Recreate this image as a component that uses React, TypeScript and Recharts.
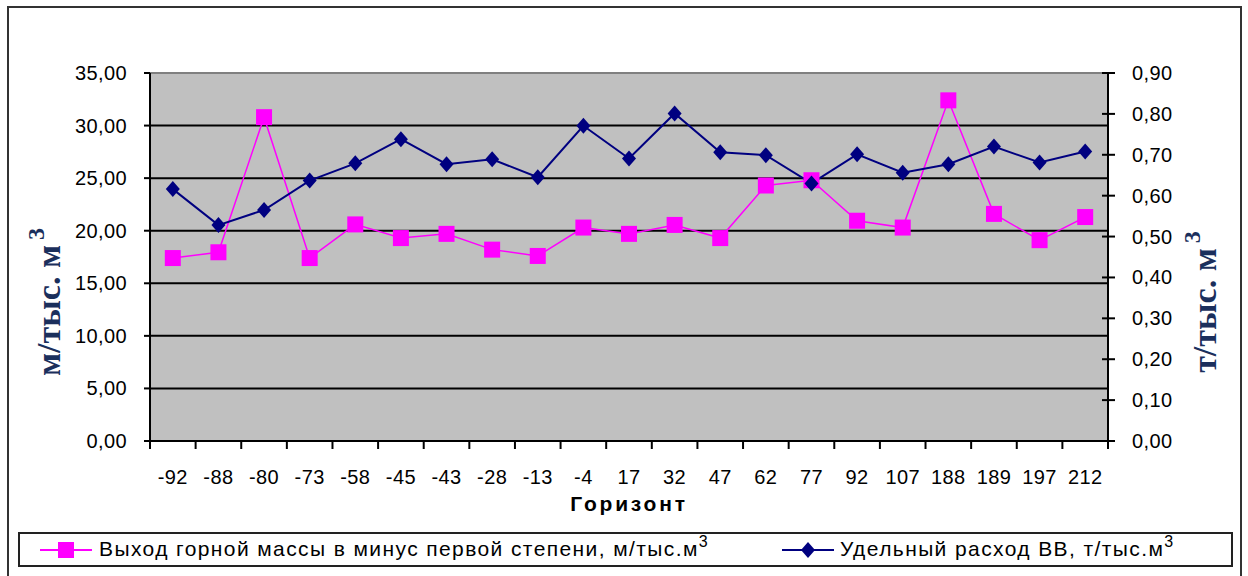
import { LineChart, Line, XAxis, YAxis, CartesianGrid, Legend, ReferenceLine } from "recharts";

// горизонты (категории оси X)
const horizons = ["-92", "-88", "-80", "-73", "-58", "-45", "-43", "-28", "-13", "-4", "17", "32", "47", "62", "77", "92", "107", "188", "189", "197", "212"];

// выход горной массы в минус первой степени, м/тыс.м3 (левая ось)
const rockYield = [17.4, 17.95, 30.8, 17.4, 20.6, 19.3, 19.7, 18.2, 17.6, 20.3, 19.7, 20.55, 19.3, 24.3, 24.8, 20.95, 20.3, 32.4, 21.6, 19.1, 21.3];

// удельный расход ВВ, т/тыс.м3 (правая ось)
const explosiveUse = [0.616, 0.528, 0.565, 0.637, 0.679, 0.738, 0.677, 0.689, 0.645, 0.771, 0.691, 0.801, 0.706, 0.699, 0.63, 0.701, 0.656, 0.677, 0.72, 0.681, 0.708];

const leftTicks = [0, 5, 10, 15, 20, 25, 30, 35];
const rightTicks = [0, 0.1, 0.2, 0.3, 0.4, 0.5, 0.6, 0.7, 0.8, 0.9];

const yieldName = "Выход горной массы в минус первой степени, м/тыс.м";
const explosiveName = "Удельный расход ВВ, т/тыс.м";

const data = horizons.map((h, i) => ({ horizon: h, rock: rockYield[i], bb: explosiveUse[i] }));

const SANS = "'Liberation Sans', Arial, sans-serif";
const SERIF = "'Liberation Serif', 'Times New Roman', serif";
const TITLE_COLOR = "#1b2f5c";
const PINK = "#ff00ff";
const NAVY = "#000080";

const fmt = (v: number) => v.toFixed(2).replace(".", ",");

const HorizonTick = (props: any) => {
  const { x, y, payload, index, width } = props;
  const step = (width || 958) / horizons.length;
  return (
    <g>
      <line x1={x - step / 2} y1={y} x2={x - step / 2} y2={y + 8} stroke="#000" strokeWidth={2} />
      {index === horizons.length - 1 && (
        <line x1={x + step / 2} y1={y} x2={x + step / 2} y2={y + 8} stroke="#000" strokeWidth={2} />
      )}
      <text x={x} y={y + 43} textAnchor="middle" fontFamily={SANS} fontSize={20} letterSpacing={0.4} fill="#000">
        {payload.value}
      </text>
    </g>
  );
};

const LeftTick = (props: any) => {
  const { x, y, payload } = props;
  return (
    <g>
      <line x1={x - 6} y1={y} x2={x} y2={y} stroke="#000" strokeWidth={2} />
      <text x={x - 23} y={y + 7} textAnchor="end" fontFamily={SANS} fontSize={20} letterSpacing={0.4} fill="#000">
        {fmt(payload.value)}
      </text>
    </g>
  );
};

const RightTick = (props: any) => {
  const { x, y, payload } = props;
  return (
    <g>
      <line x1={x - 6} y1={y} x2={x + 7} y2={y} stroke="#000" strokeWidth={2} />
      <text x={x + 24} y={y + 7} textAnchor="start" fontFamily={SANS} fontSize={20} letterSpacing={0.4} fill="#000">
        {fmt(payload.value)}
      </text>
    </g>
  );
};

const AxisTitle = ({ viewBox, text, dx }: any) => {
  const cx = viewBox.x + dx;
  const cy = viewBox.y + viewBox.height / 2 + 45;
  return (
    <text
      x={cx}
      y={cy}
      transform={`rotate(-90, ${cx}, ${cy})`}
      textAnchor="middle"
      fontFamily={SERIF}
      fontWeight="bold"
      fontSize={34}
      fill={TITLE_COLOR}
    >
      {text}
      <tspan dy={-16} dx={5} fontSize={24}>3</tspan>
    </text>
  );
};

const SquareDot = (props: any) => {
  const { cx, cy } = props;
  if (cx == null || cy == null) return null;
  return <rect x={cx - 8} y={cy - 8} width={16} height={16} fill={PINK} />;
};

const DiamondDot = (props: any) => {
  const { cx, cy } = props;
  if (cx == null || cy == null) return null;
  return <polygon points={`${cx},${cy - 8} ${cx + 7},${cy} ${cx},${cy + 8} ${cx - 7},${cy}`} fill={NAVY} />;
};

const LegendBox = () => (
  <div
    style={{
      width: 1215,
      height: 35,
      border: "2px solid #222",
      boxSizing: "border-box",
      position: "relative",
      background: "#fff",
      fontFamily: SANS,
      fontSize: 21,
      letterSpacing: 1.4,
      color: "#000",
    }}
  >
    <svg width={52} height={20} style={{ position: "absolute", left: 20, top: 6 }}>
      <line x1={0} y1={10} x2={52} y2={10} stroke={PINK} strokeWidth={2} />
      <rect x={18} y={2} width={16} height={16} fill={PINK} />
    </svg>
    <span style={{ position: "absolute", left: 79, top: 3, whiteSpace: "nowrap" }}>
      {yieldName}
      <sup style={{ fontSize: 16, verticalAlign: 9, lineHeight: 0 }}>3</sup>
    </span>
    <svg width={52} height={20} style={{ position: "absolute", left: 762, top: 6 }}>
      <line x1={0} y1={10} x2={52} y2={10} stroke={NAVY} strokeWidth={2} />
      <polygon points="26,2 33,10 26,18 19,10" fill={NAVY} />
    </svg>
    <span style={{ position: "absolute", left: 820, top: 3, whiteSpace: "nowrap" }}>
      {explosiveName}
      <sup style={{ fontSize: 16, verticalAlign: 9, lineHeight: 0 }}>3</sup>
    </span>
  </div>
);

export default function App() {
  return (
    <div style={{ position: "absolute", left: 0, top: 0, width: 1248, height: 576, overflow: "hidden", background: "#fff" }}>
      <div
        style={{
          position: "absolute",
          left: 7,
          top: 6,
          width: 1235,
          height: 580,
          border: "2px solid #333",
          borderBottom: "none",
          boxSizing: "border-box",
        }}
      />
      <div style={{ position: "absolute", left: 0, top: 0 }}>
        <LineChart width={1248} height={576} data={data} margin={{ top: 73, right: 0, bottom: 60, left: 0 }}>
          <CartesianGrid
            yAxisId="left"
            vertical={false}
            horizontal
            stroke="#000"
            strokeWidth={2}
            fill="#c0c0c0"
            fillOpacity={1}
          />
          <ReferenceLine yAxisId="left" y={35} stroke="#808080" strokeWidth={2} />
          <XAxis
            dataKey="horizon"
            scale="band"
            height={75}
            tickSize={0}
            tickMargin={0}
            tickLine={false}
            axisLine={{ stroke: "#000", strokeWidth: 2 }}
            tick={<HorizonTick />}
            interval={0}
            label={{
              value: "Горизонт",
              position: "insideBottom",
              offset: 5,
              fontFamily: SANS,
              fontWeight: "bold",
              fontSize: 21,
              fill: "#000",
              letterSpacing: 2.8,
            }}
          />
          <YAxis
            yAxisId="left"
            orientation="left"
            width={150}
            domain={[0, 35]}
            ticks={leftTicks}
            interval={0}
            tickSize={0}
            tickMargin={0}
            tickLine={false}
            axisLine={{ stroke: "#000", strokeWidth: 2 }}
            tick={<LeftTick />}
            label={(p: any) => <AxisTitle {...p} text="м/тыс. м" dx={60} />}
          />
          <YAxis
            yAxisId="right"
            orientation="right"
            width={140}
            domain={[0, 0.9]}
            ticks={rightTicks}
            interval={0}
            tickSize={0}
            tickMargin={0}
            tickLine={false}
            axisLine={{ stroke: "#000", strokeWidth: 2 }}
            tick={<RightTick />}
            label={(p: any) => <AxisTitle {...p} text="т/тыс. м" dx={108} />}
          />
          <Line
            yAxisId="left"
            dataKey="rock"
            name={yieldName}
            stroke={PINK}
            strokeWidth={1.5}
            dot={<SquareDot />}
            activeDot={false}
            isAnimationActive={false}
          />
          <Line
            yAxisId="right"
            dataKey="bb"
            name={explosiveName}
            stroke={NAVY}
            strokeWidth={2}
            dot={<DiamondDot />}
            activeDot={false}
            isAnimationActive={false}
          />
          <Legend
            layout="vertical"
            verticalAlign="middle"
            align="center"
            content={<LegendBox />}
            wrapperStyle={{ left: 18, top: 532, width: 1215, height: 35 }}
          />
        </LineChart>
      </div>
    </div>
  );
}
